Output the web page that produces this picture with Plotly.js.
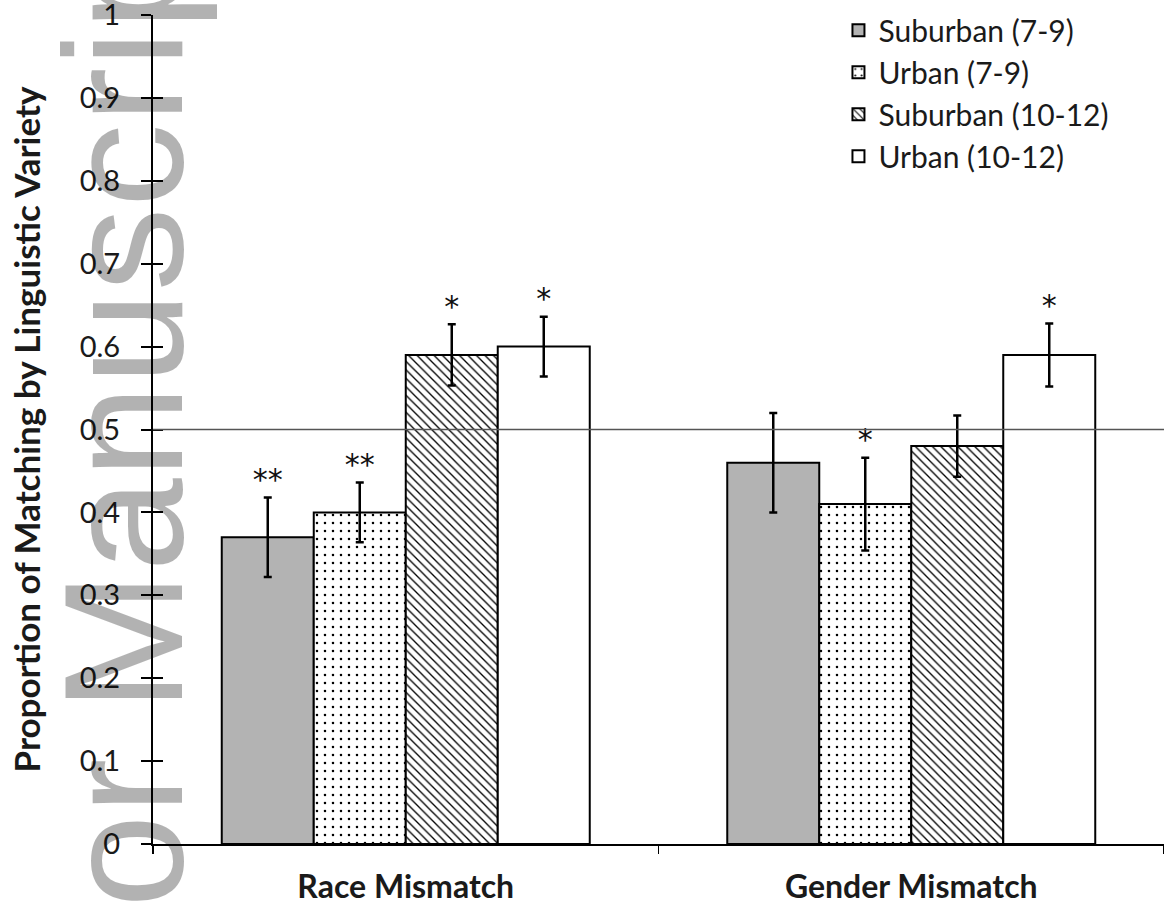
<!DOCTYPE html>
<html>
<head>
<meta charset="utf-8">
<script src="https://cdn.plot.ly/plotly-3.0.1.min.js"></script>
<style>
  html, body { margin: 0; padding: 0; background: #fff; }
  #chart { width: 1164px; height: 905px; }
</style>
</head>
<body>
<div id="chart"></div>
<script>
// ---- data ----
const categories = ['Race Mismatch', 'Gender Mismatch'];
const seriesNames = ['Suburban (7-9)', 'Urban (7-9)', 'Suburban (10-12)', 'Urban (10-12)'];

const suburban79 = [0.37, 0.46];
const urban79 = [0.40, 0.41];
const suburban1012 = [0.59, 0.48];
const urban1012 = [0.60, 0.59];

const suburban79Err = [0.048, 0.060];
const urban79Err = [0.036, 0.056];
const suburban1012Err = [0.037, 0.037];
const urban1012Err = [0.036, 0.038];

const suburban79Sig = ['**', ''];
const urban79Sig = ['**', '*'];
const suburban1012Sig = ['*', ''];
const urban1012Sig = ['*', '*'];

const yTickVals = [0, 0.1, 0.2, 0.3, 0.4, 0.5, 0.6, 0.7, 0.8, 0.9, 1];
const yTickText = ['0', '0.1', '0.2', '0.3', '0.4', '0.5', '0.6', '0.7', '0.8', '0.9', '1'];

const chanceLevel = 0.5;
const watermarkText = 'or Manuscript';

// ---- styles ----
const values = [suburban79, urban79, suburban1012, urban1012];
const errors = [suburban79Err, urban79Err, suburban1012Err, urban1012Err];
const sigs = [suburban79Sig, urban79Sig, suburban1012Sig, urban1012Sig];

const fills = ['#b3b3b3', '#ffffff', '#ffffff', '#ffffff'];
const patterns = [
  { shape: '' },
  { shape: '.', size: 8, solidity: 0.08, fgcolor: '#000', bgcolor: '#fff', fillmode: 'replace' },
  { shape: '\\', size: 6, solidity: 0.22, fgcolor: '#000', bgcolor: '#fff', fillmode: 'replace' },
  { shape: '' }
];

const traces = [];
for (let i = 0; i < 4; i++) {
  traces.push({
    type: 'bar',
    name: seriesNames[i],
    x: categories,
    y: values[i],
    marker: {
      color: fills[i],
      line: { color: '#000', width: 2 },
      pattern: patterns[i]
    },
    error_y: {
      type: 'data', array: errors[i], visible: true,
      color: '#000', thickness: 2.5, width: 4
    },
    hoverinfo: 'skip'
  });
}
for (let i = 0; i < 4; i++) {
  traces.push({
    type: 'scatter',
    mode: 'text',
    x: categories,
    y: values[i].map((v, k) => v + errors[i][k]),
    text: sigs[i],
    textposition: 'top center',
    textfont: { family: 'DejaVu Sans, sans-serif', size: 30, color: '#111' },
    showlegend: false,
    hoverinfo: 'skip',
    cliponaxis: false
  });
}
// companion axis for the cross-style y ticks
traces.push({ type: 'scatter', x: [], y: [], yaxis: 'y2', showlegend: false, hoverinfo: 'skip' });

const layout = {
  width: 1164,
  height: 905,
  margin: { l: 153, r: 0, t: 15, b: 61 },
  paper_bgcolor: '#fff',
  plot_bgcolor: '#fff',
  barmode: 'group',
  bargap: 0.272,
  bargroupgap: 0,
  scattermode: 'group',
  scattergap: 0.272,
  showlegend: true,
  font: { family: 'Lato, sans-serif', color: '#1a1a1a' },
  legend: {
    x: 0.678, y: 1.013, xanchor: 'left', yanchor: 'top',
    font: { family: 'Lato, sans-serif', size: 30, color: '#1a1a1a' },
    bgcolor: 'rgba(0,0,0,0)',
    tracegroupgap: 0,
    itemclick: false
  },
  xaxis: {
    type: 'category',
    showline: true, linecolor: '#000', linewidth: 2,
    ticks: 'outside', ticklen: 8, tickwidth: 1.5, tickcolor: '#000',
    tickson: 'boundaries',
    showgrid: false, zeroline: false,
    tickfont: { family: 'Lato, sans-serif', size: 32, color: '#1a1a1a', weight: 'bold' },
    ticklabelstandoff: 14,
    ticklabeloverflow: 'allow'
  },
  yaxis: {
    range: [0, 1],
    tickmode: 'array', tickvals: yTickVals, ticktext: yTickText,
    showline: true, linecolor: '#000', linewidth: 2,
    ticks: 'outside', ticklen: 10, tickwidth: 2, tickcolor: '#000',
    showgrid: false, zeroline: false,
    tickfont: { family: 'Lato, sans-serif', size: 29, color: '#1a1a1a' },
    ticklabelstandoff: 15,
    ticklabeloverflow: 'allow',
    title: {
      text: 'Proportion of Matching by Linguistic Variety',
      font: { family: 'Lato, sans-serif', size: 35, color: '#1a1a1a', weight: 'bold' },
      standoff: 28
    }
  },
  yaxis2: {
    overlaying: 'y', anchor: 'x', side: 'left',
    range: [0, 1],
    tickmode: 'array', tickvals: yTickVals,
    ticks: 'inside', ticklen: 10, tickwidth: 2, tickcolor: '#000',
    showline: false, showgrid: false, zeroline: false, showticklabels: false
  },
  shapes: [{
    type: 'line', xref: 'paper', x0: 0, x1: 1, yref: 'y', y0: chanceLevel, y1: chanceLevel,
    line: { color: '#555', width: 1.5 }, layer: 'above'
  }],
  annotations: [{
    text: watermarkText,
    xref: 'paper', yref: 'paper', x: -0.0287, y: 0.537,
    xanchor: 'center', yanchor: 'middle',
    textangle: -90, showarrow: false,
    font: { family: 'Liberation Sans, Arial, sans-serif', size: 168, color: 'rgba(0,0,0,0.3)' }
  }]
};

Plotly.newPlot('chart', traces, layout, { staticPlot: true, displayModeBar: false });
</script>
</body>
</html>
